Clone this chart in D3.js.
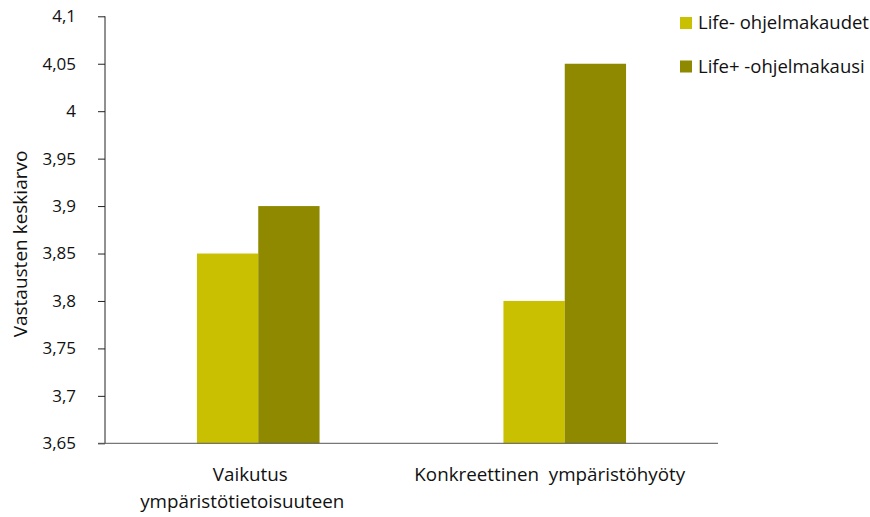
<!DOCTYPE html>
<html><head><meta charset="utf-8">
<script src="https://cdn.jsdelivr.net/npm/d3@7"></script>
<style>body{margin:0;background:#fff;} text{font-family:"Open Sans",sans-serif;fill:#111;white-space:pre;}</style>
</head><body>
<svg id="c" width="870" height="517"></svg>
<script>
const categories = [["Vaikutus","ympäristötietoisuuteen"],["Konkreettinen  ympäristöhyöty"]];
const seriesNames = ["Life- ohjelmakaudet","Life+ -ohjelmakausi"];
const lifeMinus = [3.85, 3.80];
const lifePlus = [3.90, 4.05];
const yTicks = [3.65,3.7,3.75,3.8,3.85,3.9,3.95,4,4.05,4.1];
const colors = ["#c8c000","#8f8900"];
const yTitle = "Vastausten keskiarvo";

const svg = d3.select("#c");
const L=105, R=718, T=16.3, B=443.3;
const x = d3.scaleBand().domain(d3.range(categories.length)).range([L,R]);
const y = d3.scaleLinear().domain([3.65,4.1]).range([B,T]);
const series=[lifeMinus,lifePlus];
const bw = x.bandwidth()*0.2;

series.forEach((s,si)=>{
  svg.append("g").selectAll("rect").data(s).enter().append("rect")
    .attr("x",(d,i)=>x(i)+x.bandwidth()/2-bw+si*bw)
    .attr("width",bw)
    .attr("y",d=>y(d)).attr("height",d=>B-y(d))
    .attr("fill",colors[si]);
});

const ya = svg.append("g").attr("transform",`translate(${L},0)`)
  .call(d3.axisLeft(y).tickValues(yTicks).tickSize(7).tickPadding(22)
    .tickFormat(d=>String(+d.toFixed(2)).replace(".",",")));
ya.select(".domain").attr("stroke","#222").attr("d",`M0,${T}V${B}`);
ya.selectAll(".tick line").attr("stroke","#222");
ya.selectAll(".tick text").style("font-size","17px").attr("fill","#111");

svg.append("line").attr("x1",98).attr("x2",R).attr("y1",B).attr("y2",B).attr("stroke","#555").attr("stroke-width",1);

const labelShift = [[-8,-16],[-15]];
categories.forEach((c,i)=>{
  const cx=x(i)+x.bandwidth()/2;
  const t=svg.append("text").attr("text-anchor","middle").style("font-size","18.8px")
    .attr("x",cx).attr("y",481);
  c.forEach((line,j)=>t.append("tspan").attr("x",cx+labelShift[i][j]).attr("dy",j?27:0).text(line));
});

svg.append("text").attr("transform","translate(27,244) rotate(-90)").attr("text-anchor","middle")
  .style("font-size","19px").text(yTitle);

seriesNames.forEach((n,i)=>{
  const cy=23+i*43.5;
  svg.append("rect").attr("x",680).attr("y",cy-6).attr("width",12).attr("height",12).attr("fill",colors[i]);
  svg.append("text").attr("x",698).attr("y",cy+6).style("font-size","18.5px").text(n);
});
</script>
</body></html>
